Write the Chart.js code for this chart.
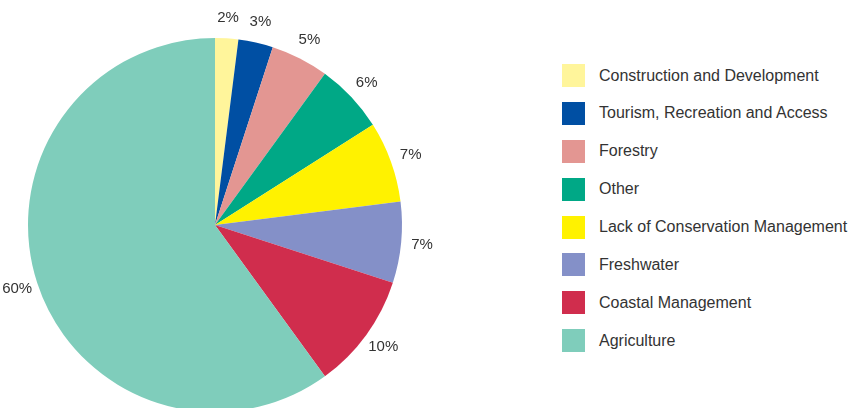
<!DOCTYPE html>
<html>
<head>
<meta charset="utf-8">
<script src="https://cdn.jsdelivr.net/npm/chart.js@4"></script>
<style>
    html, body { margin: 0; padding: 0; width: 852px; height: 408px; overflow: hidden; background: #fff; }
    #chartWrap { position: absolute; left: 0; top: 0; width: 470px; height: 450px; }
    #legend { position: absolute; left: 562px; top: 64px; font-family: 'Liberation Sans', Arial, sans-serif; font-size: 16px; color: #333; }
    .legend-row { display: flex; align-items: center; height: 23px; margin-bottom: 14.9px; }
    .legend-box { width: 23px; height: 23px; margin-right: 14px; }
</style>
</head>
<body>
<div id="chartWrap"><canvas id="pieChart" width="470" height="450"></canvas></div>
<div id="legend"></div>
<script>
// ----- DATA -----
const categories = ['Construction and Development', 'Tourism, Recreation and Access', 'Forestry', 'Other',
    'Lack of Conservation Management', 'Freshwater', 'Coastal Management', 'Agriculture'];
const shares = [2, 3, 5, 6, 7, 7, 10, 60];
const sliceColors = ['#fff59b', '#004fa3', '#e39692', '#00a886', '#fff200', '#8490c8', '#d02d4d', '#7fcdbb'];

// percent labels outside each slice
const outsideLabels = {
    id: 'outsideLabels',
    afterDatasetsDraw(chart) {
        const ctx = chart.ctx;
        const meta = chart.getDatasetMeta(0);
        ctx.save();
        ctx.font = '15px "Liberation Sans", Arial, sans-serif';
        ctx.fillStyle = '#333';
        ctx.textAlign = 'center';
        ctx.textBaseline = 'middle';
        meta.data.forEach((arc, i) => {
            const mid = (arc.startAngle + arc.endAngle) / 2;
            const r = arc.outerRadius + 21;
            const x = arc.x + Math.cos(mid) * r;
            const y = arc.y + Math.sin(mid) * r;
            ctx.fillText(shares[i] + '%', x, y);
        });
        ctx.restore();
    }
};

new Chart(document.getElementById('pieChart'), {
    type: 'pie',
    data: { labels: categories, datasets: [{ data: shares, backgroundColor: sliceColors, borderWidth: 0 }] },
    options: {
        responsive: false,
        animation: false,
        layout: { padding: { left: 28, right: 68, top: 38, bottom: 38 } },
        plugins: { legend: { display: false }, tooltip: { enabled: false } }
    },
    plugins: [outsideLabels]
});

document.getElementById('legend').innerHTML = categories.map((c, i) => `
    <div class="legend-row"><div class="legend-box" style="background:${sliceColors[i]}"></div><span>${c}</span></div>
`).join('');
</script>
</body>
</html>
